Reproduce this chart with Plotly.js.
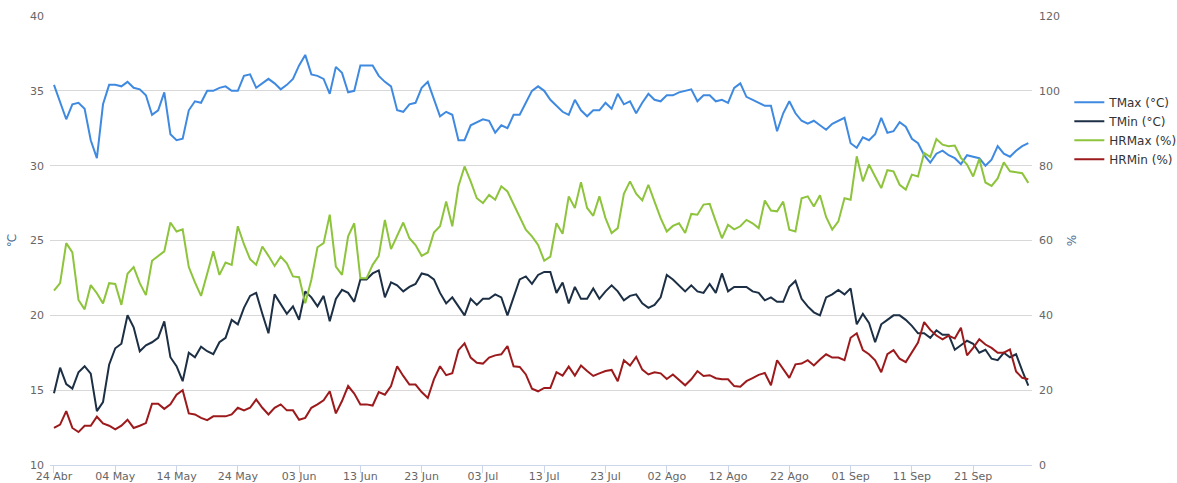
<!DOCTYPE html>
<html>
<head>
<meta charset="utf-8">
<script src="https://cdn.plot.ly/plotly-3.0.1.min.js"></script>
<style>
  html, body { margin: 0; padding: 0; background: #ffffff; }
  #chart { width: 1177px; height: 483px; }
</style>
</head>
<body>
<div id="chart"></div>
<script>
// ---- Data (daily values, 24 Abr .. 30 Sep) ----
const startDate = "2016-04-24";

const tmax = [
  35.4, 34.3, 33.1, 34.1, 34.2, 33.8, 31.7, 30.5, 34.1, 35.4,
  35.4, 35.3, 35.6, 35.2, 35.1, 34.7, 33.4, 33.7, 34.9, 32.1,
  31.7, 31.8, 33.7, 34.3, 34.2, 35.0, 35.0, 35.2, 35.3, 35.0,
  35.0, 36.0, 36.1, 35.2, 35.5, 35.8, 35.5, 35.1, 35.4, 35.8,
  36.7, 37.4, 36.1, 36.0, 35.8, 34.8, 36.6, 36.2, 34.9, 35.0,
  36.7, 36.7, 36.7, 36.0, 35.6, 35.3, 33.7, 33.6, 34.1, 34.2,
  35.2, 35.6, 34.4, 33.3, 33.6, 33.4, 31.7, 31.7, 32.7, 32.9,
  33.1, 33.0, 32.2, 32.7, 32.5, 33.4, 33.4, 34.2, 35.0, 35.3,
  35.0, 34.4, 34.0, 33.6, 33.4, 34.4, 33.7, 33.3, 33.7, 33.7,
  34.2, 33.8, 34.8, 34.1, 34.3, 33.5, 34.2, 34.8, 34.4, 34.3,
  34.7, 34.7, 34.9, 35.0, 35.1, 34.3, 34.7, 34.7, 34.3, 34.4,
  34.2, 35.2, 35.5, 34.6, 34.4, 34.2, 34.0, 34.0, 32.3, 33.5,
  34.3, 33.5, 33.0, 32.8, 33.0, 32.7, 32.4, 32.8, 33.0, 33.2,
  31.5, 31.2, 31.9, 31.7, 32.1, 33.2, 32.2, 32.3, 32.9, 32.6,
  31.8, 31.5, 30.7, 30.2, 30.8, 31.0, 30.7, 30.5, 30.1, 30.7,
  30.6, 30.5, 30.0, 30.4, 31.3, 30.8, 30.6, 31.0, 31.3, 31.5
];

const tmin = [
  14.8, 16.5, 15.4, 15.1, 16.2, 16.6, 16.1, 13.6, 14.2, 16.7,
  17.8, 18.1, 20.0, 19.2, 17.6, 18.0, 18.2, 18.5, 19.6, 17.2,
  16.6, 15.6, 17.5, 17.2, 17.9, 17.6, 17.4, 18.2, 18.5, 19.7,
  19.4, 20.5, 21.3, 21.5, 20.1, 18.8, 21.4, 20.7, 20.1, 20.6,
  19.7, 21.6, 21.2, 20.6, 21.3, 19.6, 21.1, 21.7, 21.5, 20.9,
  22.4, 22.4, 22.8, 23.0, 21.2, 22.2, 22.0, 21.6, 21.9, 22.1,
  22.8, 22.7, 22.4, 21.5, 20.8, 21.2, 20.6, 20.0, 21.1, 20.7,
  21.1, 21.1, 21.4, 21.2, 20.0, 21.2, 22.4, 22.6, 22.1, 22.7,
  22.9, 22.9, 21.5, 22.2, 20.8, 21.9, 21.1, 21.1, 21.8, 21.1,
  21.6, 22.0, 21.6, 21.0, 21.3, 21.4, 20.8, 20.5, 20.7, 21.2,
  22.7, 22.4, 22.0, 21.6, 22.0, 21.6, 21.5, 22.1, 21.5, 22.8,
  21.6, 21.9, 21.9, 21.9, 21.6, 21.5, 21.0, 21.2, 20.9, 20.9,
  21.9, 22.3, 21.1, 20.6, 20.2, 20.0, 21.2, 21.4, 21.7, 21.4,
  21.8, 19.4, 20.1, 19.5, 18.2, 19.4, 19.7, 20.0, 20.0, 19.7,
  19.3, 18.8, 18.8, 18.5, 19.0, 18.7, 18.7, 17.7, 18.0, 18.3,
  18.1, 17.5, 17.7, 17.1, 17.0, 17.5, 17.2, 17.4, 16.3, 15.3
];

const hrmax = [
  46.6, 48.6, 59.3, 56.8, 44.1, 41.6, 48.1, 45.9, 43.2, 48.6,
  48.4, 42.8, 51.1, 52.9, 48.6, 45.4, 54.6, 55.9, 57.1, 64.8,
  62.4, 63.0, 52.9, 48.8, 45.2, 51.1, 57.1, 50.8, 54.1, 53.5,
  63.8, 59.0, 55.0, 53.5, 58.4, 55.9, 53.2, 55.7, 53.9, 50.4,
  50.2, 43.2, 49.5, 58.2, 59.3, 66.9, 53.0, 50.8, 61.1, 64.6,
  49.9, 49.9, 53.5, 55.9, 65.5, 57.7, 61.5, 64.8, 60.6, 58.8,
  55.9, 56.8, 62.1, 63.8, 70.4, 63.8, 74.5, 79.8, 75.8, 71.3,
  70.0, 72.2, 70.9, 74.5, 73.1, 69.6, 66.0, 62.9, 61.1, 58.8,
  54.6, 55.7, 64.6, 61.8, 71.8, 68.7, 75.6, 68.7, 66.6, 71.8,
  66.0, 62.0, 63.3, 72.5, 75.8, 72.5, 70.7, 74.9, 70.4, 66.0,
  62.4, 63.9, 64.6, 62.0, 67.1, 66.9, 69.6, 69.8, 65.1, 60.6,
  64.2, 63.0, 63.8, 65.5, 64.6, 63.3, 70.7, 68.0, 67.8, 70.4,
  62.9, 62.4, 71.3, 71.8, 69.1, 72.1, 66.3, 62.9, 65.1, 71.3,
  70.9, 82.5, 75.8, 80.3, 77.1, 74.0, 78.8, 78.5, 74.9, 73.6,
  77.6, 77.1, 83.4, 82.3, 87.1, 85.6, 85.2, 85.4, 82.1, 80.3,
  77.1, 81.8, 75.5, 74.6, 76.6, 80.9, 78.5, 78.2, 78.0, 75.4
];

const hrmin = [
  9.9, 10.8, 14.4, 9.9, 8.8, 10.5, 10.5, 12.9, 11.1, 10.5,
  9.5, 10.5, 12.1, 9.9, 10.5, 11.2, 16.4, 16.4, 15.0, 16.2,
  18.8, 20.0, 13.8, 13.5, 12.6, 12.0, 13.0, 13.0, 13.0, 13.5,
  15.3, 14.6, 15.3, 17.5, 15.3, 13.5, 15.3, 16.2, 14.6, 14.6,
  12.1, 12.6, 15.3, 16.2, 17.3, 19.7, 13.8, 17.1, 21.1, 19.1,
  16.2, 16.2, 15.9, 19.5, 18.8, 21.1, 26.4, 23.8, 21.5, 21.5,
  19.5, 17.9, 22.9, 26.4, 24.0, 24.5, 30.7, 32.5, 28.7, 27.3,
  27.1, 28.7, 29.3, 29.6, 31.8, 26.4, 26.2, 24.2, 20.4, 19.7,
  20.6, 20.6, 24.8, 23.9, 26.3, 23.9, 26.6, 25.1, 23.8, 24.5,
  25.1, 25.4, 22.4, 28.0, 26.6, 28.9, 25.5, 24.2, 24.8, 24.5,
  23.0, 24.2, 22.7, 21.3, 22.9, 25.1, 23.8, 24.0, 23.2, 22.9,
  22.9, 21.1, 20.9, 22.4, 23.2, 24.1, 24.6, 21.3, 28.0, 25.5,
  23.3, 26.9, 27.1, 28.0, 26.6, 28.2, 29.6, 28.7, 28.7, 28.0,
  34.0, 35.2, 30.7, 29.6, 28.0, 24.8, 29.6, 30.7, 28.4, 27.5,
  30.2, 32.7, 38.2, 36.1, 34.6, 33.6, 34.6, 33.8, 36.7, 29.3,
  31.3, 33.6, 32.2, 31.3, 30.0, 30.0, 30.9, 25.0, 23.3, 22.9
];

const tickLabels = ["24 Abr", "04 May", "14 May", "24 May", "03 Jun", "13 Jun",
  "23 Jun", "03 Jul", "13 Jul", "23 Jul", "02 Ago", "12 Ago", "22 Ago",
  "01 Sep", "11 Sep", "21 Sep"];
const tickStepDays = 10;

const seriesNames = ["TMax (°C)", "TMin (°C)", "HRMax (%)", "HRMin (%)"];
const seriesColors = ["#3f8ae0", "#1c2f44", "#8dc43c", "#9c1a1c"];

// ---- Build dates ----
const DAY = 86400000;
const t0 = Date.parse(startDate + "T00:00:00Z");
function iso(ms) { return new Date(ms).toISOString().slice(0, 19).replace("T", " "); }
const dates = tmax.map((_, i) => iso(t0 + i * DAY));
const tickVals = tickLabels.map((_, i) => iso(t0 + i * tickStepDays * DAY));

const n = tmax.length;
const xRange = [iso(t0 - 0.65 * DAY), iso(t0 + (n - 1 + 0.6) * DAY)];

const traces = [
  { x: dates, y: tmax, name: seriesNames[0], yaxis: "y", line: { color: seriesColors[0] } },
  { x: dates, y: tmin, name: seriesNames[1], yaxis: "y", line: { color: seriesColors[1] } },
  { x: dates, y: hrmax, name: seriesNames[2], yaxis: "y2", line: { color: seriesColors[2] } },
  { x: dates, y: hrmin, name: seriesNames[3], yaxis: "y2", line: { color: seriesColors[3] } }
].map(t => Object.assign({ type: "scatter", mode: "lines", hoverinfo: "x+y+name" }, t,
  { line: Object.assign({ width: 2 }, t.line) }));

const FONT = "DejaVu Sans, Verdana, Arial, sans-serif";

const layout = {
  width: 1177,
  height: 483,
  margin: { l: 50, r: 145, t: 16, b: 18, pad: 0, autoexpand: false },
  paper_bgcolor: "#ffffff",
  plot_bgcolor: "#ffffff",
  font: { family: FONT, size: 11, color: "#666666" },
  showlegend: true,
  legend: {
    x: 1.038, xanchor: "left", y: 0.84, yanchor: "top",
    font: { family: FONT, size: 12, color: "#333333" },
    bgcolor: "rgba(0,0,0,0)", tracegroupgap: 0
  },
  xaxis: {
    type: "date",
    range: xRange,
    tickmode: "array",
    tickvals: tickVals,
    ticktext: tickLabels,
    showgrid: false,
    zeroline: false,
    showline: true,
    linecolor: "#ccd6eb",
    linewidth: 1,
    ticks: "outside",
    ticklen: 7,
    tickcolor: "#ccd6eb",
    ticklabelstandoff: -6,
    tickfont: { family: FONT, size: 11, color: "#666666" },
    automargin: false,
    fixedrange: true
  },
  yaxis: {
    range: [10, 40],
    tickvals: [10, 15, 20, 25, 30, 35, 40],
    showgrid: true,
    gridcolor: "#d8d8d8",
    gridwidth: 1,
    zeroline: false,
    showline: false,
    ticks: "",
    ticklabelstandoff: 5,
    tickfont: { family: FONT, size: 11, color: "#666666" },
    title: { text: "℃", font: { family: FONT, size: 12, color: "#4d6f94" }, standoff: 10 },
    automargin: false,
    fixedrange: true
  },
  yaxis2: {
    range: [0, 120],
    tickvals: [0, 20, 40, 60, 80, 100, 120],
    overlaying: "y",
    side: "right",
    showgrid: false,
    zeroline: false,
    showline: false,
    ticks: "",
    ticklabelstandoff: 6,
    tickfont: { family: FONT, size: 11, color: "#666666" },
    title: { text: "%", font: { family: FONT, size: 12, color: "#4d6f94" }, standoff: 8 },
    automargin: false,
    fixedrange: true
  }
};

Plotly.newPlot("chart", traces, layout, { displayModeBar: false, staticPlot: false });
</script>
</body>
</html>
